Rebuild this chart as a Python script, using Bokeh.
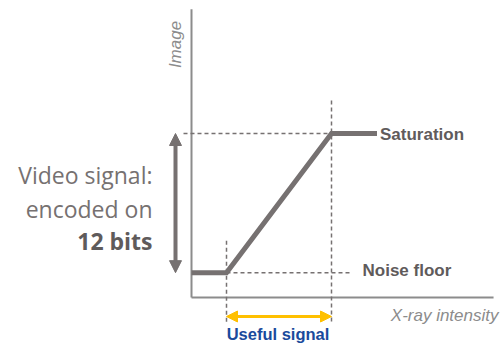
import math
from bokeh.plotting import figure
from bokeh.models import Range1d, Arrow, NormalHead
from bokeh.core.properties import value
from bokeh.embed import file_html
from bokeh.resources import INLINE

# ---- data: conceptual detector response ----
intensity = [0.0, 1.0, 4.0, 5.3]       # X-ray intensity (relative units)
image_value = [620, 620, 4095, 4095]   # image value (12-bit counts)
noise_floor = 620
saturation = 4095
useful_start = 1.0
useful_end = 4.0
axis_x_max = 8.63
axis_y_max = 7200

video_lines = ["Video signal:", "encoded on"]
video_bold = "12 bits"
x_title = "X-ray intensity"
y_title = "Image"
sat_label = "Saturation"
noise_label = "Noise floor"
useful_label = "Useful signal"

# ---- layout scale (pixels per data unit) ----
W, H = 500, 345
OX, OY = 191, 297              # origin in canvas px
PX = 35.0                      # px per x unit
CY = 4095 / 164.0              # counts per px

def dx(px):
    return px / PX

def dy(px):
    return px * CY

GRAY = "#767171"
AXIS = "#8c8c8c"
DARK = "#5f5b5b"

p = figure(width=W, height=H, output_backend="svg", toolbar_location=None,
           x_range=Range1d(-OX / PX, (W - OX) / PX),
           y_range=Range1d(-(H - OY) * CY, OY * CY),
           x_axis_location=None, y_axis_location=None, min_border=0,
           outline_line_color=None)
p.grid.visible = False

# axes
p.line([0, 0], [0, axis_y_max], line_color=AXIS, line_width=2)
p.line([0, axis_x_max], [0, 0], line_color=AXIS, line_width=2)

# guides
dash = "4 3"
p.line([dx(-8), useful_end], [saturation, saturation], line_color=GRAY, line_width=1.5, line_dash=dash)
p.line([useful_end, useful_end], [saturation + dy(33), -dy(27)], line_color=GRAY, line_width=1.5, line_dash=dash)
p.line([useful_start, useful_start], [noise_floor + dy(32), -dy(27)], line_color=GRAY, line_width=1.5, line_dash=dash)
p.line([useful_start, useful_start + dx(124)], [noise_floor, noise_floor], line_color=GRAY, line_width=1.5, line_dash=dash)

# response curve
p.line(intensity, image_value, line_color=GRAY, line_width=5, line_join="miter")

# video-signal double arrow
ax = dx(-16)
p.line([ax, ax], [noise_floor + dy(9), saturation - dy(9)], line_color=GRAY, line_width=4)
p.add_layout(Arrow(x_start=ax, y_start=(noise_floor + saturation) / 2, x_end=ax, y_end=saturation,
                   line_alpha=0,
                   end=NormalHead(size=12, fill_color=GRAY, line_color=GRAY, line_width=1)))
p.add_layout(Arrow(x_start=ax, y_start=(noise_floor + saturation) / 2, x_end=ax, y_end=noise_floor,
                   line_alpha=0,
                   end=NormalHead(size=12, fill_color=GRAY, line_color=GRAY, line_width=1)))

# useful-signal double arrow
YEL = "#ffc000"
ay = -dy(19)
p.line([useful_start + dx(8), useful_end - dx(8)], [ay, ay], line_color=YEL, line_width=3)
mid = (useful_start + useful_end) / 2
p.add_layout(Arrow(x_start=mid, y_start=ay, x_end=useful_end, y_end=ay, line_alpha=0,
                   end=NormalHead(size=11, fill_color=YEL, line_color=YEL, line_width=1)))
p.add_layout(Arrow(x_start=mid, y_start=ay, x_end=useful_start, y_end=ay, line_alpha=0,
                   end=NormalHead(size=11, fill_color=YEL, line_color=YEL, line_width=1)))

# texts
ARIAL = value("Liberation Sans")
p.text(x=[mid - dx(1)], y=[-dy(36)], text=[useful_label], text_font=ARIAL, text_font_style="bold",
       text_font_size="16.5px", text_color="#1a4a9c", text_align="center", text_baseline="alphabetic")
p.text(x=[dx(307)], y=[-dy(18)], text=[x_title], text_font=ARIAL, text_font_style="italic",
       text_font_size="17px", text_color="#8c8c8c", text_align="right", text_baseline="alphabetic")
p.text(x=[ax], y=[dy(253)], text=[y_title], text_font=ARIAL, text_font_style="italic",
       text_font_size="17px", text_color="#8c8c8c", text_align="center", text_baseline="middle",
       angle=math.pi / 2)
p.text(x=[intensity[-1] + dx(3)], y=[saturation - dy(1)], text=[sat_label], text_font=ARIAL,
       text_font_style="bold", text_font_size="17px", text_color=DARK, text_align="left",
       text_baseline="middle")
p.text(x=[useful_start + dx(136)], y=[noise_floor + dy(2)], text=[noise_label], text_font=ARIAL,
       text_font_style="bold", text_font_size="17px", text_color=DARK, text_align="left",
       text_baseline="middle")

OPEN = value("Open Sans")
vx = dx(-39)
p.text(x=[vx, vx], y=[dy(123), dy(89)], text=video_lines, text_font=OPEN,
       text_font_size="23px", text_color=GRAY, text_align="right", text_baseline="alphabetic")
p.text(x=[vx], y=[dy(57)], text=[video_bold], text_font=OPEN, text_font_style="bold",
       text_font_size="23px", text_color=DARK, text_align="right", text_baseline="alphabetic")

open("out.html", "w").write(file_html(p, INLINE))
